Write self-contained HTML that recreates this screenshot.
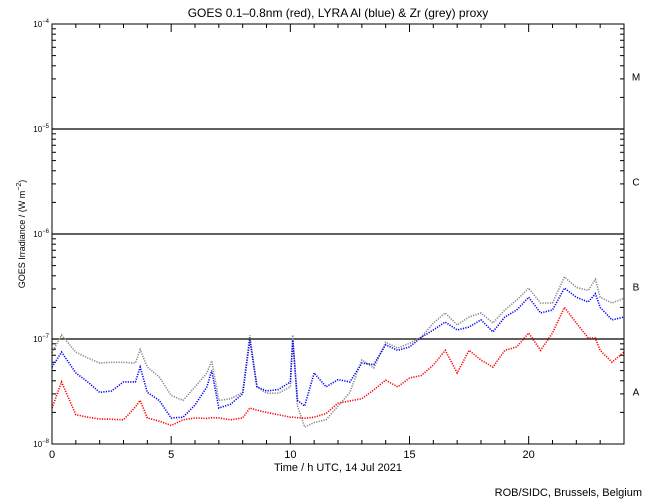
<!DOCTYPE html>
<html><head><meta charset="utf-8"><style>
body{margin:0;background:#fff}
svg{display:block;font-family:"Liberation Sans",sans-serif}
</style></head><body>
<svg id="chart" width="650" height="500" viewBox="0 0 650 500">
<text x="338" y="17" text-anchor="middle" font-size="12">GOES 0.1–0.8nm (red), LYRA Al (blue) &amp; Zr (grey) proxy</text>
<text x="338" y="471" text-anchor="middle" font-size="11">Time / h UTC, 14 Jul 2021</text>
<text x="25" y="234" text-anchor="middle" font-size="9" transform="rotate(-90 25 234)">GOES Irradiance / (W m<tspan dy="-4" font-size="7">−2</tspan><tspan dy="4">)</tspan></text>
<text x="642" y="496" text-anchor="end" font-size="11">ROB/SIDC, Brussels, Belgium</text>
<g id="axes"></g>
<g id="series"></g>
<rect x="52" y="24" width="572" height="420" fill="none" stroke="#000" stroke-width="1"/>
</svg>
<script>
// values in units of 1e-8 W/m^2
const hours = [0,0.4,1,1.5,2,2.5,3,3.5,3.7,4,4.5,5,5.5,6,6.5,6.7,7,7.5,8,8.3,8.6,9,9.5,10,10.1,10.3,10.6,11,11.5,12,12.5,13,13.5,14,14.5,15,15.5,16,16.5,17,17.5,18,18.5,19,19.5,20,20.5,21,21.5,22,22.5,22.8,23,23.5,24];
const redVals = [2.2,3.9,1.9,1.8,1.73,1.72,1.7,2.25,2.6,1.77,1.65,1.5,1.7,1.77,1.75,1.78,1.77,1.7,1.77,2.2,2.1,2.0,1.9,1.8,1.8,1.78,1.76,1.8,1.95,2.45,2.57,2.7,3.27,4.06,3.5,4.25,4.5,5.65,7.8,4.75,7.8,6.3,5.4,7.8,8.4,11.4,7.8,11.4,20,14.2,10.2,10.2,7.8,6.0,7.5];
const blueVals = [5.4,7.5,4.75,3.9,3.1,3.2,3.9,3.9,5.4,3.1,2.6,1.77,1.8,2.35,3.5,5.0,2.2,2.4,3.0,9.8,3.5,3.2,3.3,3.9,9.8,2.6,2.3,4.75,3.5,4.1,3.9,5.9,5.7,8.8,7.8,8.4,10.4,12.2,14.5,12.2,13,15.2,11.7,16.2,18.9,25,17.7,18.9,30.5,25,22.5,27,20,15.2,16.2];
const greyVals = [7.4,10.9,7.5,6.6,5.9,6.0,6.0,5.9,7.9,5.4,4.35,2.9,2.6,3.5,4.75,6.2,2.6,2.7,3.1,10.9,3.5,3.05,3.05,3.5,10.9,2.3,1.45,1.6,1.7,2.3,3.1,6.3,5.3,9.3,8.2,9.1,10.4,14.2,17.7,13.6,16.2,17.7,14.2,18.9,23.5,30.5,22,22,39,31,29,37,25,22,24.5];
const xTicks = [0,5,10,15,20];
const yDecades = [-4,-5,-6,-7,-8];
const classLabels = ["M","C","B","A"];

const X0=52,X1=624,Y0=24,Y1=444;
const xs = h => X0 + (X1-X0)*h/24;
const ys = v => Y1 - (Math.log10(v*1e-8)+8)*105; // v in 1e-8 units
const ysLog = lg => Y1 - (lg+8)*105;
const NS="http://www.w3.org/2000/svg";
const axes=document.getElementById('axes'), ser=document.getElementById('series');
function mk(tag,attrs,parent){const e=document.createElementNS(NS,tag);for(const k in attrs)e.setAttribute(k,attrs[k]);parent.appendChild(e);return e;}

// x ticks
for(let h=0;h<=24;h++){
  const len = h%5===0?8:4;
  const t1=mk('line',{x1:xs(h),x2:xs(h),y1:Y1,y2:Y1-len,stroke:'#000'},axes);
  
  
  const t2=mk('line',{x1:xs(h),x2:xs(h),y1:Y0,y2:Y0+len,stroke:'#000'},axes);
  
  
}
xTicks.forEach(h=>{
  const t=mk('text',{x:xs(h),y:Y1+14,'text-anchor':'middle','font-size':11},axes);
  t.textContent=h;
  
  
});
// y ticks
for(let d=-8;d<-4;d++){
  for(let m=1;m<10;m++){
    const y=ysLog(d+Math.log10(m));
    const len=m===1?8:4;
    const a=mk('line',{x1:X0,x2:X0+len,y1:y,y2:y,stroke:'#000'},axes);
    
    
    const b=mk('line',{x1:X1,x2:X1-len,y1:y,y2:y,stroke:'#000'},axes);
    
    
  }
}
yDecades.forEach(d=>{
  const y=ysLog(d);
  const t=mk('text',{x:X0-3,y:y+3,'text-anchor':'end','font-size':8},axes);
  t.innerHTML='10<tspan dy="-4" font-size="6">'+(d<0?'−':'')+Math.abs(d)+'</tspan>';
  
  
  if(d>-8 && d<-4){
    const l=mk('line',{x1:X0,x2:X1,y1:y,y2:y,stroke:'#000','stroke-width':1.2},axes);
    
    
  }
});
classLabels.forEach((c,i)=>{
  const t=mk('text',{x:636,y:ysLog(-4-i-0.5)+4,'text-anchor':'middle','font-size':10},axes);
  t.textContent=c;
  
  
});
// series
function draw(vals,color,name){
  const pts=hours.map((h,i)=>xs(h)+','+ys(vals[i])).join(' ');
  const p=mk('polyline',{points:pts,fill:'none',stroke:color,'stroke-width':1.6,'stroke-dasharray':'1.2 1.3'},ser);
  
  
}
draw(greyVals,'#888','zr-grey-series');
draw(blueVals,'#0000ff','al-blue-series');
draw(redVals,'#ff0000','goes-red-series');
</script>
</body></html>
